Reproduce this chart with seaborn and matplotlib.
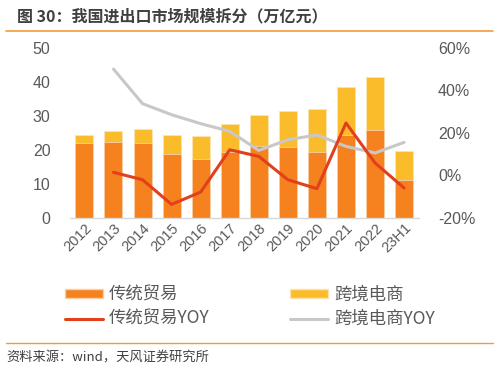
import numpy as np
import pandas as pd
import matplotlib
matplotlib.use("Agg")
import matplotlib.pyplot as plt
import seaborn as sns
from matplotlib.patches import Patch
from matplotlib.lines import Line2D

years = ['2012', '2013', '2014', '2015', '2016', '2017', '2018', '2019',
         '2020', '2021', '2022', '23H1']
traditional = [22.0, 22.4, 22.0, 18.8, 17.4, 19.3, 21.1, 20.8, 19.3, 24.3, 25.8, 11.3]
total = [24.3, 25.5, 26.2, 24.3, 24.1, 27.6, 30.3, 31.5, 32.0, 38.6, 41.6, 19.8]
trad_yoy = [np.nan, 1.5, -2.0, -13.6, -7.8, 12.1, 9.0, -2.0, -6.2, 24.7, 5.9, -5.9]
ecom_yoy = [np.nan, 50.1, 33.8, 28.6, 24.4, 20.8, 11.8, 16.8, 19.1, 13.7, 10.6, 15.6]

c_trad = '#F5821F'
c_ecom = '#FBBC2C'
c_trad_yoy = '#E2401C'
c_ecom_yoy = '#C8C8C8'
txt = '#595959'

sns.set_theme(style='white')
plt.rcParams['font.family'] = ['Noto Sans CJK SC', 'DejaVu Sans']

df = pd.DataFrame({'year': years, 'trad': traditional, 'total': total,
                   'trad_yoy': trad_yoy, 'ecom_yoy': ecom_yoy})
df['pos'] = np.arange(len(years))

fig = plt.figure(figsize=(4.99, 3.72), dpi=100)
ax = fig.add_axes([0.140, 0.414, 0.699, 0.457])

# stacked bars: total (yellow) underneath, traditional (orange) on top
sns.barplot(data=df, x='year', y='total', color=c_ecom, saturation=1,
            width=0.62, edgecolor='#FDE3B0', linewidth=0.6, ax=ax)
sns.barplot(data=df, x='year', y='trad', color=c_trad, saturation=1,
            width=0.62, edgecolor='#FAD0A8', linewidth=0.6, ax=ax)

ax.set_ylim(0, 50)
ax.set_yticks([0, 10, 20, 30, 40, 50])
ax.set_xlim(-0.5, len(years) - 0.5)
ax.set_xlabel('')
ax.set_ylabel('')
ax.tick_params(axis='y', labelsize=11.5, colors=txt, length=0, pad=14)
ax.tick_params(axis='x', labelsize=10.5, colors=txt, length=0, pad=2)
for lab in ax.get_yticklabels():
    lab.set_family(['Liberation Sans', 'DejaVu Sans'])
ax.set_xticks(range(len(years)))
ax.set_xticklabels(years, rotation=45, ha='right', rotation_mode='anchor',
                   family=['Liberation Sans', 'DejaVu Sans'])
for s in ['top', 'right', 'left']:
    ax.spines[s].set_visible(False)
ax.spines['bottom'].set_color('#D9D9D9')
ax.spines['bottom'].set_linewidth(1.0)

ax2 = ax.twinx()
sns.lineplot(data=df, x='pos', y='ecom_yoy', color=c_ecom_yoy, linewidth=2.2, ax=ax2)
sns.lineplot(data=df, x='pos', y='trad_yoy', color=c_trad_yoy, linewidth=2.2, ax=ax2)
ax2.set_ylim(-20, 60)
ax2.set_yticks([-20, 0, 20, 40, 60])
ax2.set_yticklabels(['-20%', '0%', '20%', '40%', '60%'],
                    family=['Liberation Sans', 'DejaVu Sans'])
ax2.tick_params(axis='y', labelsize=11.5, colors=txt, length=0, pad=14)
ax2.set_xlim(-0.5, len(years) - 0.5)
ax2.set_xlabel('')
ax2.set_ylabel('')
for s in ['top', 'right', 'left', 'bottom']:
    ax2.spines[s].set_visible(False)

handles = [Patch(facecolor=c_trad, edgecolor='#FAD0A8'),
           Line2D([], [], color=c_trad_yoy, linewidth=2.2),
           Patch(facecolor=c_ecom, edgecolor='#FDE3B0'),
           Line2D([], [], color=c_ecom_yoy, linewidth=2.2)]
labels = ['传统贸易', '传统贸易YOY', '跨境电商', '跨境电商YOY']
leg = fig.legend(handles, labels, loc='center left', bbox_to_anchor=(0.130, 0.175),
                 ncol=2, frameon=False, fontsize=12.5, handlelength=2.2,
                 handleheight=0.45, columnspacing=4.6, labelspacing=0.35,
                 handletextpad=0.35, borderpad=0, borderaxespad=0)
for t in leg.get_texts():
    t.set_color(txt)

fig.text(0.034, 0.957, '图 30：我国进出口市场规模拆分（万亿元）', fontsize=11.5,
         color='#404040', fontweight='bold', va='center')
fig.add_artist(Line2D([0.012, 0.988], [0.917, 0.917], color='#F39A3C', linewidth=1.2))
fig.add_artist(Line2D([0.012, 0.988], [0.078, 0.078], color='#F39A3C', linewidth=1.0))
fig.text(0.012, 0.037, '资料来源：wind，天风证券研究所', fontsize=9.5,
         color='#404040', va='center')

fig.savefig('out.png', dpi=100)
